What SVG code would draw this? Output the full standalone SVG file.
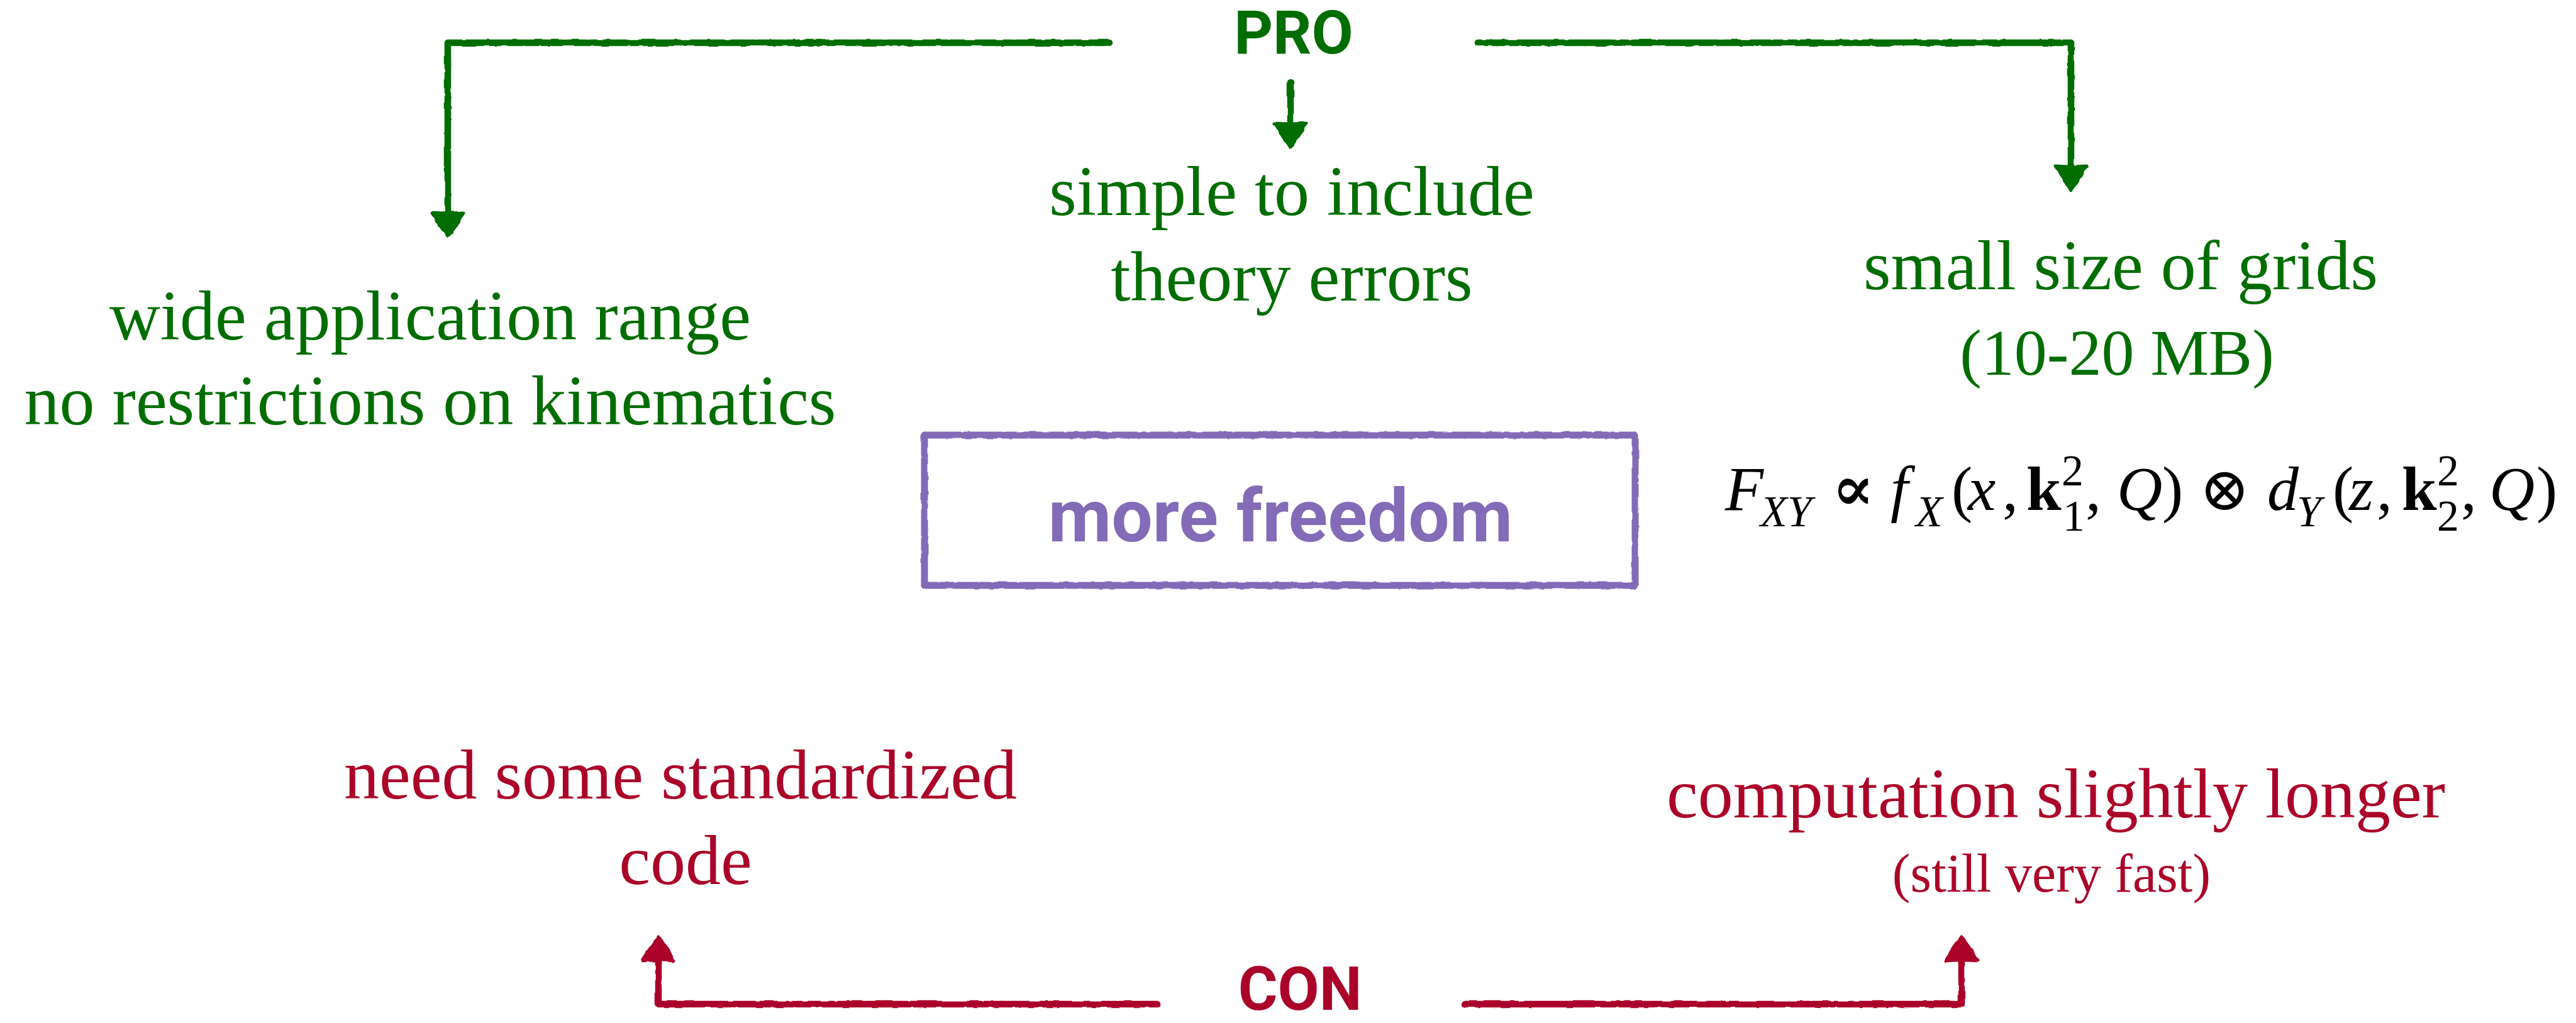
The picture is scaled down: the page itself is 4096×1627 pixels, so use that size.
<svg xmlns="http://www.w3.org/2000/svg" width="4096" height="1627" viewBox="0 0 4096 1627">
  <style>
    .serif { font-family: "Liberation Serif", "DejaVu Serif", serif; font-size: 112px; text-anchor: middle; }
    .green { fill: #006d00; }
    .red { fill: #ab0429; }
    .head { font-family: Roboto, "Liberation Sans", sans-serif; font-weight: 700; font-size: 96px; text-anchor: middle; }
    .conn { fill: none; stroke-width: 10.5; stroke-linecap: round; stroke-linejoin: round; }
    .g { stroke: #006d00; }
    .r { stroke: #ab0429; }
    .box { fill: none; stroke: #836bb7; stroke-width: 11; stroke-linecap: round; }
    .math { font-family: "Liberation Serif", "DejaVu Serif", serif; font-size: 100px; fill: #000; }
    .it { font-style: italic; }
    .sub { font-size: 70px; }
    .op { font-family: "DejaVu Serif", "Liberation Serif", serif; }
  </style>
  <defs>
    <filter id="rough" x="-5%" y="-5%" width="110%" height="110%">
      <feTurbulence type="fractalNoise" baseFrequency="0.06" numOctaves="2" seed="3" result="n"/>
      <feDisplacementMap in="SourceGraphic" in2="n" scale="4" xChannelSelector="R" yChannelSelector="G"/>
    </filter>
    <marker id="ahG" markerUnits="userSpaceOnUse" viewBox="-4 -32 50 64" refX="0" refY="0" markerWidth="50" markerHeight="64" orient="auto">
      <path d="M0,-25 Q6,-20 14,-17 L38,0 L14,17 Q6,20 0,25 Q2,0 0,-25 Z" fill="#006d00" stroke="#006d00" stroke-width="5" stroke-linejoin="round"/>
    </marker>
    <marker id="ahR" markerUnits="userSpaceOnUse" viewBox="-4 -32 50 64" refX="0" refY="0" markerWidth="50" markerHeight="64" orient="auto">
      <path d="M0,-25 Q6,-20 14,-17 L38,0 L14,17 Q6,20 0,25 Q2,0 0,-25 Z" fill="#ab0429" stroke="#ab0429" stroke-width="5" stroke-linejoin="round"/>
    </marker>
  </defs>
  <rect width="4096" height="1627" fill="#fff"/>

  <g id="connectors" filter="url(#rough)">
    <path class="conn g" d="M1764,68 L712,68 L712,338" marker-end="url(#ahG)"/>
    <path class="conn g" d="M2052,131 L2052,196" marker-end="url(#ahG)"/>
    <path class="conn g" d="M2350,68 L3293,68 L3293,264" marker-end="url(#ahG)"/>
    <path class="conn r" d="M1841,1597 L1047,1597 L1047,1528" marker-end="url(#ahR)"/>
    <path class="conn r" d="M2330,1597 L3119,1597 L3119,1528" marker-end="url(#ahR)"/>
  </g>

  <g id="pro">
    <text class="head green" x="2057" y="85">PRO</text>
  </g>
  <g id="con">
    <text class="head red" x="2067" y="1606">CON</text>
  </g>

  <g id="wide-range">
    <text class="serif green" x="684" y="540">wide application range</text>
    <text class="serif green" x="684" y="675">no restrictions on kinematics</text>
  </g>
  <g id="theory-errors">
    <text class="serif green" x="2054" y="342">simple to include</text>
    <text class="serif green" x="2054" y="478">theory errors</text>
  </g>
  <g id="grid-size">
    <text class="serif green" x="3372" y="460">small size of grids</text>
    <text class="serif green" x="3366" y="596" style="font-size:104px">(10-20 MB)</text>
  </g>

  <g id="more-freedom">
    <g filter="url(#rough)">
      <line class="box" x1="1470" y1="692" x2="2600" y2="692"/>
      <line class="box" x1="1470" y1="931" x2="2600" y2="931"/>
      <line class="box" x1="1470" y1="692" x2="1470" y2="931"/>
      <line class="box" x1="2600" y1="692" x2="2600" y2="931"/>
    </g>
    <text x="2036" y="861" font-family="Roboto, 'Liberation Sans', sans-serif" font-weight="700" font-size="116" fill="#836bb7" text-anchor="middle">more freedom</text>
  </g>

  <g id="formula">
    <text class="math">
      <tspan class="it" x="2743" y="811">F</tspan>
      <tspan class="it sub" x="2799" y="837">XY</tspan>
      <tspan class="op" x="2913" y="811" style="font-size:100px;font-weight:700">∝</tspan>
      <tspan class="it" x="3006" y="811">f</tspan>
      <tspan class="it sub" x="3046" y="837">X</tspan>
      <tspan x="3103" y="811">(</tspan>
      <tspan class="it" x="3129" y="811">x</tspan>
      <tspan x="3184" y="811">,</tspan>
      <tspan font-weight="700" x="3222" y="811">k</tspan>
      <tspan class="sub" x="3278" y="772">2</tspan>
      <tspan class="sub" x="3280" y="844">1</tspan>
      <tspan x="3316" y="811">,</tspan>
      <tspan class="it" x="3366" y="811">Q</tspan>
      <tspan x="3438" y="811">)</tspan>
      <tspan class="op" x="3497" y="811" style="font-size:96px">⊗</tspan>
      <tspan class="it" x="3605" y="811">d</tspan>
      <tspan class="it sub" x="3652" y="837">Y</tspan>
      <tspan x="3709" y="811">(</tspan>
      <tspan class="it" x="3735" y="811">z</tspan>
      <tspan x="3779" y="811">,</tspan>
      <tspan font-weight="700" x="3819" y="811">k</tspan>
      <tspan class="sub" x="3875" y="772">2</tspan>
      <tspan class="sub" x="3875" y="844">2</tspan>
      <tspan x="3913" y="811">,</tspan>
      <tspan class="it" x="3958" y="811">Q</tspan>
      <tspan x="4033" y="811">)</tspan>
    </text>
  </g>

  <g id="standardized-code">
    <text class="serif red" x="1082" y="1270">need some standardized</text>
    <text class="serif red" x="1090" y="1406">code</text>
  </g>
  <g id="computation">
    <text class="serif red" x="3269" y="1300">computation slightly longer</text>
    <text class="serif red" x="3262" y="1418" style="font-size:86px">(still very fast)</text>
  </g>
</svg>
